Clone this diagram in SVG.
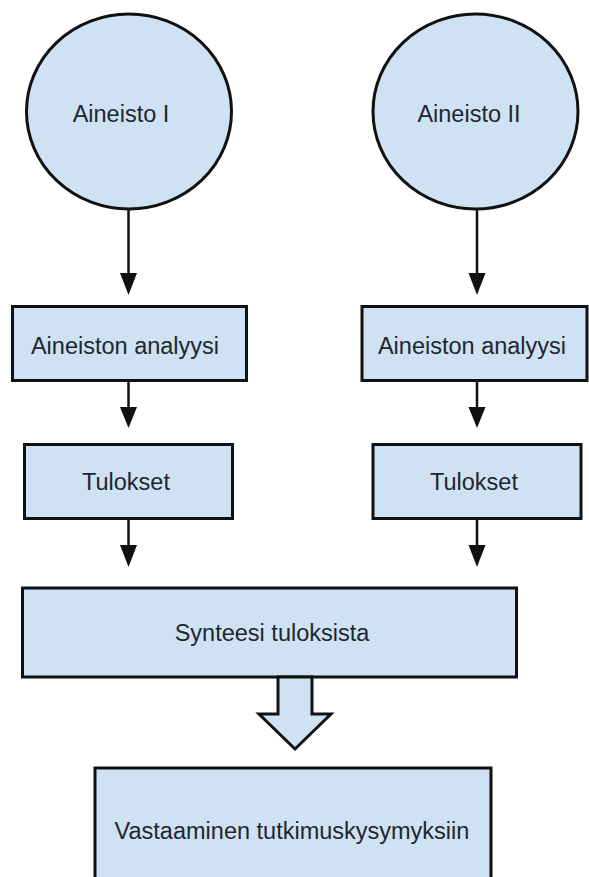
<svg xmlns="http://www.w3.org/2000/svg" width="589" height="877" viewBox="0 0 589 877">
<defs>
<style>
.node{fill:#cfe2f3;stroke:#111;stroke-width:3}
.lbl{font-family:"Liberation Sans",Arial,sans-serif;font-size:23.5px;fill:#1e2630;text-anchor:middle}
.conn{stroke:#111;stroke-width:2.5;fill:none}
</style>
</defs>
<rect width="589" height="877" fill="#fff"/>
<g id="aineisto1">
<ellipse class="node" cx="129" cy="111.5" rx="102.5" ry="97.5"/>
<text class="lbl" x="121" y="122">Aineisto I</text>
</g>
<g id="aineisto2">
<ellipse class="node" cx="475.5" cy="111.5" rx="102.5" ry="97.5"/>
<text class="lbl" x="469" y="122">Aineisto II</text>
</g>
<g id="analyysi1">
<rect class="node" x="12.5" y="306.5" width="234" height="74"/>
<text class="lbl" x="125" y="354">Aineiston analyysi</text>
</g>
<g id="analyysi2">
<rect class="node" x="362" y="306.5" width="225" height="74"/>
<text class="lbl" x="472" y="354">Aineiston analyysi</text>
</g>
<g id="tulokset1">
<rect class="node" x="24.5" y="444.5" width="208" height="74"/>
<text class="lbl" x="126" y="490">Tulokset</text>
</g>
<g id="tulokset2">
<rect class="node" x="373" y="444.5" width="208" height="74"/>
<text class="lbl" x="474" y="490">Tulokset</text>
</g>
<g id="synteesi">
<rect class="node" x="22.5" y="588" width="494" height="89"/>
<text class="lbl" x="272" y="641">Synteesi tuloksista</text>
</g>
<g id="vastaaminen">
<rect class="node" x="95" y="768" width="396" height="112"/>
<text class="lbl" x="292" y="839">Vastaaminen tutkimuskysymyksiin</text>
</g>
<g id="connectors">
<g class="conn">
<line x1="128.5" y1="209" x2="128.5" y2="273"/>
<line x1="477" y1="209" x2="477" y2="273"/>
<line x1="128.5" y1="381" x2="128.5" y2="407"/>
<line x1="477" y1="381" x2="477" y2="407"/>
<line x1="128.5" y1="519" x2="128.5" y2="545"/>
<line x1="477" y1="519" x2="477" y2="545"/>
</g>
<g fill="#111">
<path d="M120,273 L137,273 L128.5,295 Z"/>
<path d="M468.5,273 L485.5,273 L477,295 Z"/>
<path d="M120,407 L137,407 L128.5,428 Z"/>
<path d="M468.5,407 L485.5,407 L477,428 Z"/>
<path d="M120,545 L137,545 L128.5,567 Z"/>
<path d="M468.5,545 L485.5,545 L477,567 Z"/>
</g>
<path class="node" stroke-width="2.5" stroke-linejoin="miter" d="M278,677 L312,677 L312,714 L331,714 L295,749 L259,714 L278,714 Z"/>
</g>
</svg>
